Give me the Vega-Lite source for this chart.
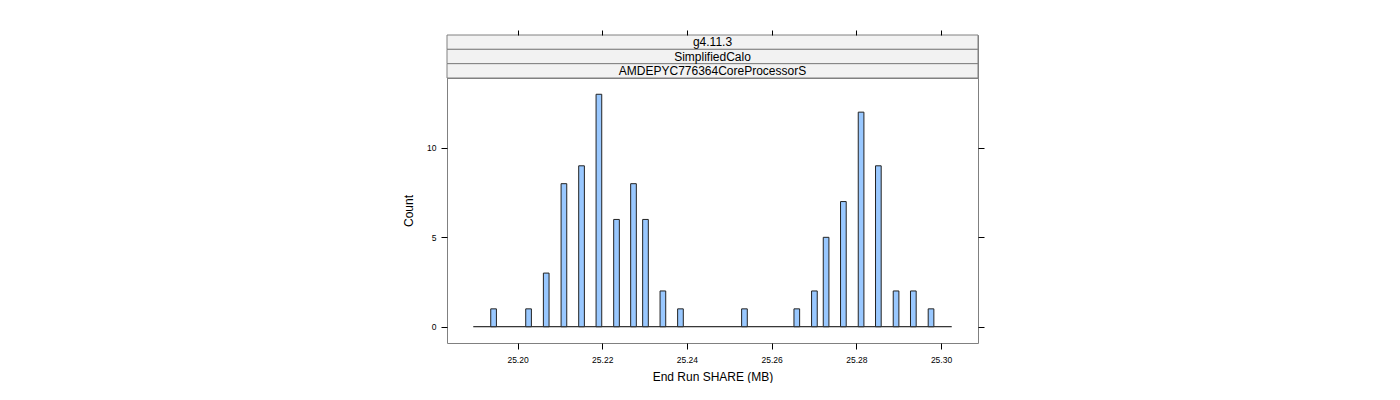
{
  "$schema": "https://vega.github.io/schema/vega-lite/v6.json",
  "padding": {"left": 402, "top": 29, "right": 0, "bottom": 0},
  "background": "white",
  "config": {
    "font": "Liberation Sans",
    "view": {"stroke": "#808080", "strokeWidth": 1},
    "axis": {
      "labelFont": "Liberation Sans",
      "titleFont": "Liberation Sans",
      "titleFontWeight": "normal",
      "labelColor": "black",
      "titleColor": "black",
      "tickColor": "black",
      "domain": false,
      "grid": false
    }
  },
  "spacing": 0,
  "bounds": "flush",
  "vconcat": [
    {
      "width": 531,
      "height": 43,
      "data": {
        "values": [
          {"level": "g4.11.3", "order": 1},
          {"level": "SimplifiedCalo", "order": 2},
          {"level": "AMDEPYC776364CoreProcessorS", "order": 3}
        ]
      },
      "layer": [
        {
          "mark": {"type": "rect", "fill": "#F2F2F2", "stroke": "#808080", "strokeWidth": 1},
          "encoding": {
            "y": {"field": "level", "type": "nominal", "sort": {"field": "order"}, "scale": {"paddingInner": 0, "paddingOuter": 0}, "axis": null}
          }
        },
        {
          "mark": {"type": "text", "fontSize": 12, "color": "black", "baseline": "middle", "align": "center"},
          "encoding": {
            "y": {"field": "level", "type": "nominal", "sort": {"field": "order"}, "scale": {"paddingInner": 0, "paddingOuter": 0}, "axis": null},
            "text": {"field": "level"}
          }
        }
      ]
    },
    {
      "width": 531,
      "height": 265,
      "layer": [
        {
          "data": {"values": [{"from": 25.18954, "to": 25.30253, "count": 0}]},
          "mark": {"type": "rule", "color": "black", "strokeWidth": 1},
          "encoding": {
            "x": {
              "field": "from", "type": "quantitative",
              "scale": {"domain": [25.18334, 25.30873], "nice": false, "zero": false},
              "axis": {"orient": "bottom", "values": [25.2, 25.22, 25.24, 25.26, 25.28, 25.3], "format": ".2f", "tickSize": 6, "labelFontSize": 8.5, "labelPadding": 6, "title": "End Run SHARE (MB)", "titleFontSize": 12, "titlePadding": 8}
            },
            "x2": {"field": "to"},
            "y": {
              "field": "count", "type": "quantitative",
              "scale": {"domain": [-0.91, 13.91], "nice": false, "zero": false},
              "axis": {"orient": "left", "values": [0, 5, 10], "tickSize": 6, "labelFontSize": 8.5, "labelPadding": 5, "labelAngle": 0, "title": "Count", "titleFontSize": 12, "titlePadding": 11}
            }
          }
        },
        {
          "data": {
            "values": [
              {"start": 25.19367, "end": 25.19501, "count": 1},
              {"start": 25.20193, "end": 25.20327, "count": 1},
              {"start": 25.20610, "end": 25.20744, "count": 3},
              {"start": 25.21028, "end": 25.21162, "count": 8},
              {"start": 25.21444, "end": 25.21578, "count": 9},
              {"start": 25.21854, "end": 25.21988, "count": 13},
              {"start": 25.22270, "end": 25.22404, "count": 6},
              {"start": 25.22671, "end": 25.22805, "count": 8},
              {"start": 25.22954, "end": 25.23088, "count": 6},
              {"start": 25.23365, "end": 25.23499, "count": 2},
              {"start": 25.23780, "end": 25.23914, "count": 1},
              {"start": 25.25291, "end": 25.25425, "count": 1},
              {"start": 25.26527, "end": 25.26661, "count": 1},
              {"start": 25.26943, "end": 25.27077, "count": 2},
              {"start": 25.27219, "end": 25.27353, "count": 5},
              {"start": 25.27627, "end": 25.27761, "count": 7},
              {"start": 25.28045, "end": 25.28179, "count": 12},
              {"start": 25.28453, "end": 25.28587, "count": 9},
              {"start": 25.28871, "end": 25.29005, "count": 2},
              {"start": 25.29279, "end": 25.29413, "count": 2},
              {"start": 25.29697, "end": 25.29831, "count": 1}
            ]
          },
          "mark": {"type": "rect", "fill": "#99C8FF", "stroke": "#222222", "strokeWidth": 1},
          "encoding": {
            "x": {
              "field": "start", "type": "quantitative",
              "scale": {"domain": [25.18334, 25.30873], "nice": false, "zero": false},
              "axis": {"orient": "top", "values": [25.2, 25.22, 25.24, 25.26, 25.28, 25.3], "labels": false, "tickSize": 5, "offset": 43, "title": null}
            },
            "x2": {"field": "end"},
            "y": {
              "field": "count", "type": "quantitative",
              "scale": {"domain": [-0.91, 13.91], "nice": false, "zero": false},
              "axis": {"orient": "right", "values": [0, 5, 10], "labels": false, "tickSize": 6, "title": null}
            },
            "y2": {"datum": 0}
          }
        }
      ],
      "resolve": {"axis": {"x": "independent", "y": "independent"}}
    }
  ]
}
